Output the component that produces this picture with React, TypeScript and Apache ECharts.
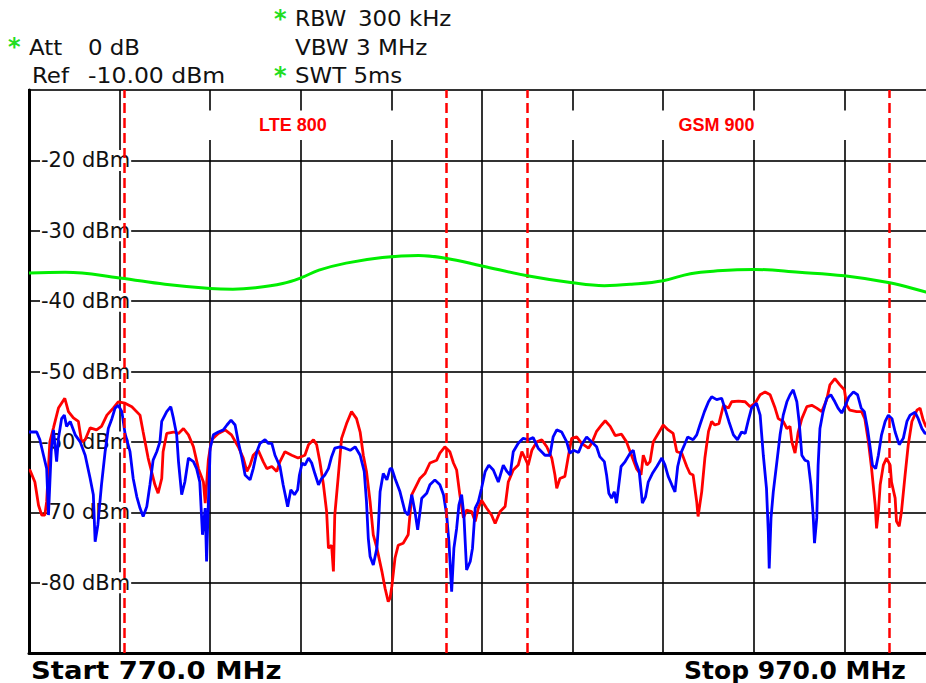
import React, { useEffect, useRef } from "react";
import * as echarts from "echarts";

// Frequency span (MHz) and level span (dBm)
const freqStart = 770;
const freqStop = 970;
const freqStep = 20;
const levelMin = -90;
const levelMax = -10;
const levelStep = 10;

// Band limits (MHz)
const bandEdges = [791, 862, 880, 960];
const bandNames = ["LTE 800", "GSM 900"];
const bandRanges = [
  [791, 862],
  [880, 960],
];

// Trace 1 (red) [MHz, dBm]
const redTrace: [number, number][] = [
  [770.0, -64.0], [770.2, -64.0], [771.3, -65.7], [772.1, -69.0], [772.8, -70.4], [773.5, -70.4], [773.9, -68.5],
  [774.6, -60.0], [775.4, -58.0], [776.5, -55.2], [777.9, -53.8], [778.7, -55.7], [779.8, -56.6],
  [780.9, -57.1], [781.6, -60.0], [782.4, -59.7], [783.5, -58.0], [784.9, -58.3], [786.0, -57.8],
  [787.2, -56.2], [788.6, -55.2], [789.7, -54.3], [791.2, -54.5], [792.7, -55.0], [794.5, -56.2],
  [795.2, -58.6], [796.3, -62.3], [797.8, -66.1], [798.5, -67.3], [799.3, -65.2], [799.6, -61.4],
  [800.4, -58.8], [801.9, -58.6], [803.0, -58.8], [804.1, -58.1], [805.2, -59.0], [806.3, -60.7],
  [807.4, -63.8], [808.5, -65.7], [808.9, -68.7], [809.6, -62.5], [810.3, -59.7], [811.8, -58.8],
  [813.3, -58.3], [814.7, -59.0], [816.2, -60.7], [817.3, -62.3], [818.1, -64.2], [818.8, -63.3],
  [819.5, -61.9], [820.6, -61.2], [821.7, -62.8], [822.5, -63.8], [823.6, -63.5], [824.7, -64.2],
  [825.4, -62.8], [826.5, -61.4], [828.0, -61.9], [829.4, -62.3], [830.9, -61.9], [831.7, -60.4],
  [832.8, -59.7], [833.5, -60.4], [834.2, -62.8], [835.0, -66.1], [835.7, -69.9], [836.1, -75.1],
  [836.8, -74.7], [837.2, -78.4], [837.5, -70.4], [838.3, -64.7], [839.0, -59.5], [840.1, -57.4],
  [841.2, -55.7], [842.3, -56.7], [843.1, -58.6], [843.8, -61.9], [844.5, -64.2], [845.3, -68.5],
  [846.0, -73.2], [846.8, -75.1], [847.9, -78.4], [848.6, -80.8], [849.3, -82.7], [849.7, -82.2],
  [850.1, -80.5], [850.8, -76.5], [851.5, -74.7], [852.6, -74.4], [853.7, -73.2], [854.5, -67.5],
  [855.2, -66.6], [856.3, -65.2], [857.4, -64.5], [858.5, -63.0], [860.0, -62.6], [860.7, -61.6],
  [861.8, -60.7], [862.9, -61.4], [863.7, -63.0], [864.4, -64.0], [865.1, -67.5], [865.9, -70.8],
  [866.6, -69.7], [867.7, -69.9], [868.5, -71.3], [869.2, -69.4], [869.9, -68.3], [871.0, -69.4],
  [872.1, -70.4], [872.9, -71.6], [874.0, -69.9], [875.1, -69.2], [875.8, -65.7], [876.9, -64.0],
  [878.0, -63.3], [878.8, -61.4], [879.5, -62.3], [880.2, -63.3], [881.0, -61.2], [882.1, -60.0],
  [883.2, -59.7], [884.3, -60.7], [885.4, -62.3], [886.1, -64.7], [886.5, -66.6], [887.2, -65.2],
  [888.3, -64.9], [889.1, -61.9], [889.8, -59.5], [890.9, -59.3], [892.0, -60.2], [893.5, -60.9],
  [894.2, -60.2], [895.3, -58.5], [896.4, -57.6], [897.2, -57.0], [898.3, -57.8], [899.4, -59.1],
  [900.8, -58.9], [901.9, -60.0], [903.0, -61.9], [904.1, -63.8], [905.1, -64.7], [905.6, -61.9],
  [906.4, -63.3], [907.1, -62.8], [907.8, -60.0], [908.9, -58.8], [910.0, -57.6], [911.1, -58.3],
  [912.2, -58.8], [913.0, -61.4], [914.1, -61.6], [915.2, -63.5], [915.9, -64.5], [916.6, -64.7],
  [917.4, -68.5], [917.7, -70.6], [918.5, -67.1], [919.2, -62.3], [920.0, -58.5], [920.7, -57.1],
  [921.4, -57.6], [922.3, -57.4], [923.3, -54.8], [924.4, -55.2], [925.1, -54.3], [926.6, -54.2],
  [928.1, -54.3], [929.2, -55.0], [930.3, -54.5], [931.4, -53.3], [932.5, -52.9], [933.6, -53.3],
  [934.7, -55.2], [935.4, -56.7], [936.5, -57.1], [937.3, -58.1], [938.0, -57.8], [938.4, -60.0],
  [939.1, -61.6], [939.8, -58.6], [940.6, -56.7], [941.7, -55.0], [942.8, -54.8], [943.9, -55.2],
  [945.0, -55.7], [946.1, -54.0], [946.8, -51.9], [947.9, -51.0], [949.0, -51.9], [950.0, -52.6],
  [950.5, -54.8], [951.2, -55.5], [952.7, -55.7], [953.8, -55.7], [954.5, -56.7], [955.3, -60.0],
  [956.0, -63.8], [956.8, -69.0], [957.1, -72.3], [957.5, -69.9], [957.9, -66.1], [958.6, -63.3],
  [959.3, -62.3], [960.1, -63.3], [960.4, -65.7], [961.2, -68.0], [961.5, -71.3], [962.1, -72.0],
  [962.6, -69.9], [963.4, -64.7], [964.1, -60.4], [964.9, -57.1], [966.0, -55.5], [966.7, -55.2],
  [967.4, -56.9], [968.0, -57.8], [970.0, -58.5],
];

// Trace 2 (blue) [MHz, dBm]
const blueTrace: [number, number][] = [
  [770.0, -58.6], [771.7, -58.6], [772.4, -59.7], [773.2, -61.9], [773.9, -63.8], [774.3, -70.4],
  [774.9, -61.4], [775.4, -58.3], [776.1, -62.8], [776.5, -59.5], [777.2, -56.7], [777.8, -56.2],
  [778.3, -57.8], [779.1, -57.1], [780.2, -59.0], [781.3, -60.0], [782.4, -61.9], [783.5, -65.2],
  [784.2, -67.5], [784.6, -74.2], [785.2, -71.8], [786.0, -66.1], [786.8, -61.4], [787.5, -58.1],
  [788.3, -56.7], [789.0, -55.2], [789.7, -54.8], [790.5, -55.7], [791.2, -58.8], [792.3, -61.4],
  [793.0, -65.2], [793.8, -67.8], [794.5, -69.4], [795.2, -70.6], [796.0, -69.2], [796.7, -66.1],
  [797.4, -62.6], [798.2, -61.4], [798.9, -60.0], [799.3, -57.1], [800.4, -55.7], [801.3, -55.0],
  [801.9, -56.7], [802.6, -59.0], [803.0, -62.8], [803.7, -67.5], [804.4, -65.7], [805.2, -62.3],
  [806.3, -62.8], [807.0, -63.8], [807.7, -65.7], [808.3, -73.2], [808.9, -69.4], [809.2, -77.0],
  [809.6, -68.5], [810.0, -60.9], [810.7, -59.0], [811.8, -58.6], [812.9, -58.3], [813.7, -57.6],
  [814.6, -56.9], [815.5, -57.6], [816.2, -60.0], [817.0, -62.3], [817.7, -64.7], [818.8, -65.4],
  [819.5, -63.8], [820.3, -61.4], [821.0, -60.2], [822.1, -59.7], [822.8, -60.2], [823.6, -60.2],
  [824.3, -61.9], [825.4, -63.5], [826.1, -66.1], [827.1, -69.2], [827.8, -66.8], [828.6, -67.5],
  [829.3, -66.8], [829.7, -64.7], [830.3, -63.0], [830.9, -63.3], [831.7, -62.3], [832.4, -63.0],
  [833.1, -64.5], [833.9, -66.1], [834.6, -65.2], [835.3, -64.7], [836.1, -63.8], [836.8, -62.1],
  [837.5, -60.9], [838.7, -60.7], [839.8, -60.9], [840.9, -61.2], [842.0, -60.7], [843.1, -61.9],
  [844.0, -64.2], [844.5, -68.5], [844.9, -73.7], [845.3, -76.3], [846.0, -77.5], [846.8, -75.1],
  [847.1, -72.3], [847.5, -67.1], [848.2, -64.5], [849.0, -65.4], [849.7, -63.8], [850.1, -63.8],
  [850.8, -65.2], [851.9, -67.1], [853.0, -69.9], [853.7, -70.4], [854.5, -67.5], [855.2, -69.9],
  [855.8, -72.5], [856.7, -68.0], [857.8, -67.3], [858.5, -66.1], [859.6, -65.4], [860.7, -66.1],
  [861.5, -67.5], [862.2, -70.4], [862.7, -74.2], [863.3, -81.3], [863.8, -75.1], [864.4, -72.3],
  [864.9, -69.0], [865.5, -67.5], [866.0, -70.4], [866.6, -78.2], [867.4, -77.0], [867.9, -75.1],
  [868.5, -69.4], [869.2, -68.5], [869.9, -66.6], [870.7, -64.2], [871.5, -63.3], [872.5, -64.0],
  [873.6, -65.7], [874.7, -63.3], [875.5, -64.2], [876.2, -64.7], [876.9, -61.4], [878.0, -60.2],
  [879.1, -59.5], [880.2, -59.7], [881.3, -59.4], [882.4, -60.9], [883.9, -61.9], [885.0, -61.9],
  [885.7, -59.3], [886.5, -58.3], [887.6, -58.6], [888.7, -60.0], [889.4, -61.6], [890.2, -61.2],
  [891.3, -61.5], [892.0, -60.4], [893.1, -59.3], [894.2, -60.0], [895.3, -60.7], [896.0, -62.1],
  [897.0, -62.8], [897.5, -64.7], [898.0, -67.3], [898.6, -68.0], [899.2, -67.1], [899.7, -68.7],
  [900.2, -66.1], [900.7, -63.5], [901.6, -62.8], [902.7, -61.6], [903.4, -61.2], [903.9, -62.8],
  [904.7, -64.2], [905.4, -68.7], [906.1, -67.8], [906.7, -65.7], [907.6, -64.5], [908.6, -63.5],
  [909.7, -62.3], [910.4, -63.3], [911.1, -64.9], [911.9, -66.1], [912.6, -67.1], [913.2, -63.5],
  [913.9, -61.6], [914.7, -60.4], [915.4, -59.3], [916.6, -59.7], [917.4, -59.0], [918.1, -57.6],
  [919.1, -55.7], [920.0, -54.3], [920.7, -53.6], [921.8, -54.0], [922.9, -53.8], [923.6, -55.2],
  [924.5, -57.1], [925.5, -59.0], [926.4, -59.7], [927.3, -58.6], [928.1, -58.8], [928.8, -56.9],
  [929.5, -55.2], [930.6, -54.5], [931.4, -56.2], [932.1, -61.9], [932.8, -66.6], [933.2, -72.8],
  [933.4, -78.0], [933.8, -70.8], [934.3, -67.1], [935.1, -62.8], [935.8, -59.0], [936.5, -56.2],
  [937.3, -54.3], [938.0, -53.3], [938.7, -52.6], [939.5, -54.3], [940.0, -57.1], [940.6, -61.9],
  [941.3, -62.6], [942.0, -62.8], [942.6, -66.1], [943.1, -70.4], [943.4, -74.4], [943.9, -70.8],
  [944.2, -63.3], [944.6, -58.1], [945.3, -55.7], [946.1, -53.8], [947.0, -53.3], [947.9, -54.3],
  [948.6, -55.2], [949.4, -55.9], [950.1, -55.0], [951.0, -53.6], [952.0, -52.9], [952.9, -53.3],
  [953.7, -55.2], [954.4, -55.7], [955.1, -58.1], [955.6, -60.4], [956.2, -63.3], [956.9, -63.8],
  [957.5, -61.9], [958.2, -59.0], [959.0, -57.1], [959.7, -56.2], [960.5, -56.7], [961.2, -58.6],
  [962.1, -60.4], [963.0, -59.5], [963.8, -57.1], [964.5, -56.2], [965.6, -55.8], [966.3, -56.7],
  [967.1, -58.1], [967.8, -58.8], [970.0, -58.5],
];

// Trace 3 (green, limit) [MHz, dBm]
const greenTrace: [number, number][] = [
  [770, -36.0], [778, -35.9], [790, -36.7], [800, -37.6], [810, -38.2], [815, -38.3], [820, -38.1],
  [826, -37.5], [830, -36.7], [834, -35.6], [840, -34.6], [848, -33.8], [856, -33.5], [862, -33.9],
  [870, -35.0], [880, -36.4], [890, -37.4], [897, -37.8], [903, -37.6], [910, -37.1], [916, -36.1],
  [922, -35.7], [930, -35.5], [940, -35.9], [950, -36.4], [960, -37.4], [968, -38.7], [970, -39.0],
];

// Header texts
const headerLeft = [
  ["Att", "0 dB"],
  ["Ref", "-10.00 dBm"],
];
const headerRight = [["RBW", "300 kHz"], ["VBW 3 MHz"], ["SWT 5ms"]];
const footerStart = "Start 770.0 MHz";
const footerStop = "Stop 970.0 MHz";

const FONT = '"DejaVu Sans", Verdana, sans-serif';

export default function App() {
  const ref = useRef<HTMLDivElement>(null);

  useEffect(() => {
    document.body.style.margin = "0";
    document.body.style.overflow = "hidden";
    if (!ref.current) return;
    const chart = echarts.init(ref.current, null, { renderer: "svg" });

    const txt = (text: string, x: number, y: number, opts: any = {}) => ({
      type: "text",
      x,
      y,
      z: 100,
      scaleX: opts.sx || 1.04,
      style: {
        text,
        fill: opts.fill || "#111",
        font: opts.font || `22px ${FONT}`,
        verticalAlign: opts.va || "middle",
        align: "left",
      },
    });

    const star = { fill: "#22dd22", font: `bold 24px ${FONT}`, sx: 1 };
    const foot = { font: `bold 25px ${FONT}`, fill: "#000", sx: 1.1 };

    const graphics: any[] = [
      txt("*", 8, 47, star),
      txt(headerLeft[0][0], 29, 47),
      txt(headerLeft[0][1], 88, 47),
      txt(headerLeft[1][0], 32, 75),
      txt(headerLeft[1][1], 88, 75, { sx: 1.07 }),
      txt("*", 274, 19, star),
      txt(headerRight[0][0], 295, 18, { sx: 1 }),
      txt(headerRight[0][1], 358, 18),
      txt(headerRight[1][0], 295, 47, { sx: 1.05 }),
      txt("*", 274, 76, star),
      txt(headerRight[2][0], 295, 75),
      txt(footerStart, 31, 670, foot),
      txt(footerStop, 684, 670, { ...foot, sx: 1 }),
    ];

    const option: any = {
      animation: false,
      backgroundColor: "#fff",
      grid: {
        left: 29,
        top: 90,
        width: 906,
        height: 563,
        outerBoundsMode: "none",
        containLabel: false,
        show: true,
        borderColor: "#000",
        borderWidth: 2,
        backgroundColor: "transparent",
      },
      xAxis: {
        type: "value",
        min: freqStart,
        max: freqStop,
        interval: freqStep,
        axisLine: { show: true, onZero: false, lineStyle: { color: "#000", width: 3 } },
        axisTick: { show: false },
        axisLabel: { show: false },
        splitLine: { show: true, lineStyle: { color: "#000", width: 1.6 } },
      },
      yAxis: {
        type: "value",
        min: levelMin,
        max: levelMax,
        interval: levelStep,
        axisLine: { show: true, onZero: false, lineStyle: { color: "#000", width: 3 } },
        axisTick: { show: false },
        axisLabel: {
          show: true,
          inside: true,
          margin: 11,
          showMinLabel: false,
          showMaxLabel: false,
          formatter: (v: number) => `${v} dBm`,
          color: "#111",
          fontSize: 21,
          fontFamily: FONT,
          backgroundColor: "#fff",
          padding: [0, 1, 0, 1],
        },
        splitLine: { show: true, lineStyle: { color: "#333", width: 2 } },
      },
      series: [
        {
          name: "Trace 1",
          type: "line",
          data: redTrace,
          showSymbol: false,
          lineStyle: { color: "#ff0000", width: 2.8 },
          z: 3,
          markArea: {
            silent: true,
            itemStyle: { color: "#fff", opacity: 1 },
            label: {
              show: true,
              position: "inside",
              color: "#ff0000",
              fontWeight: "bold",
              fontSize: 18,
              fontFamily: '"Liberation Sans", Arial, sans-serif',
              offset: [8, 0],
            },
            data: bandRanges.map((r, i) => [
              { name: bandNames[i], xAxis: r[0], yAxis: -12.9 },
              { xAxis: r[1], yAxis: -17.1 },
            ]),
          },
        },
        {
          name: "Trace 2",
          type: "line",
          data: blueTrace,
          showSymbol: false,
          lineStyle: { color: "#0000ff", width: 2.8 },
          z: 4,
        },
        {
          name: "Limit",
          type: "line",
          data: greenTrace,
          smooth: 0.4,
          showSymbol: false,
          lineStyle: { color: "#00ee00", width: 3 },
          z: 5,
          markLine: {
            silent: true,
            symbol: ["none", "none"],
            label: { show: false },
            lineStyle: { color: "#ff0000", width: 2.5, type: [10, 5] },
            data: bandEdges.map((f) => ({ xAxis: f })),
          },
        },
      ],
      graphic: graphics,
    };

    chart.setOption(option);
    return () => chart.dispose();
  }, []);

  return <div ref={ref} style={{ width: 926, height: 683 }} />;
}
